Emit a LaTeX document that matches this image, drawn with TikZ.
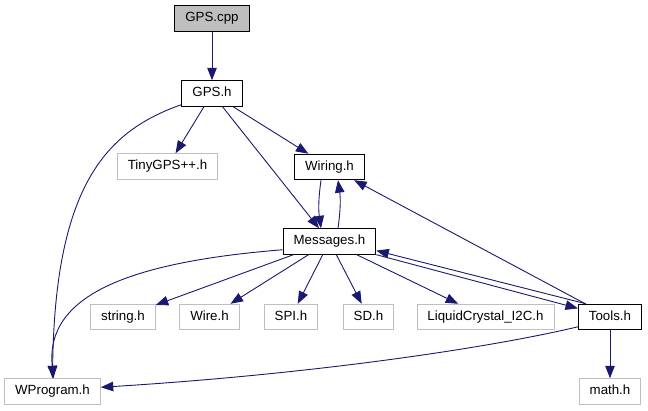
\documentclass[tikz,border=0pt]{standalone}
\usepackage{fontspec}
\setmainfont{Liberation Sans}
\usetikzlibrary{arrows.meta}
\definecolor{edgeblue}{HTML}{191970}
\definecolor{extgray}{HTML}{BFBFBF}

\tikzset{
  file/.style={draw=black,line width=0.9pt,minimum height=25.5pt,inner xsep=10.5pt,inner ysep=0pt,
    text height=10pt,text depth=3pt,font=\fontsize{13.3}{16}\selectfont},
  extfile/.style={file,draw=extgray},
  curfile/.style={file,fill=extgray},
  dep/.style={edgeblue,line width=0.9pt,-{Triangle[length=12.5pt,width=9.5pt]}},
}

\begin{document}
\begin{tikzpicture}[x=1pt,y=-1pt]
  \useasboundingbox (0,0) rectangle (648,411);
  % files
  \node[curfile] (cpp) at (212,18.5) {GPS.cpp};
  \node[file] (gpsh) at (212,93.5) {GPS.h};
  \node[extfile] (tinygps) at (167.5,166.5) {TinyGPS++.h};
  \node[file] (wiring) at (329.5,167) {Wiring.h};
  \node[file] (msgs) at (329.5,241.5) {Messages.h};
  \node[extfile] (stringh) at (123,317) {string.h};
  \node[extfile] (wireh) at (209.5,317) {Wire.h};
  \node[extfile] (spih) at (291,317) {SPI.h};
  \node[extfile] (sdh) at (368.5,317) {SD.h};
  \node[extfile] (lcdh) at (485.5,317) {LiquidCrystal\_I2C.h};
  \node[file] (tools) at (610,317) {Tools.h};
  \node[extfile] (wprog) at (52.5,391.5) {WProgram.h};
  \node[extfile] (mathh) at (610,391.5) {math.h};
  % includes
  \draw[dep] (cpp) -- (gpsh);
  \draw[dep] (gpsh) -- (tinygps);
  \draw[dep] (gpsh) -- (wiring);
  \draw[dep] (gpsh) -- (msgs);
  \draw[dep] (gpsh.200) .. controls (110,130) and (55,180) .. (wprog.north);
  \draw[dep] ([xshift=-8.5pt]wiring.south) to[bend right=8] ([xshift=-8.5pt]msgs.north);
  \draw[dep] ([xshift=8.5pt]msgs.north) to[bend right=8] ([xshift=8.5pt]wiring.south);
  \draw[dep] (msgs.190) .. controls (130,262) and (45,295) .. ([xshift=1pt]wprog.north);
  \foreach \dst in {stringh,wireh,spih,sdh,lcdh}
    \draw[dep] (msgs) -- (\dst);
  \draw[dep] (msgs.south east) -- (tools.165);
  \draw[dep] ([xshift=8pt]tools.north west) -- (msgs.-11);
  \draw[dep] (tools) -- (wiring);
  \draw[dep] (tools.197) .. controls (480,350) and (300,375) .. (wprog.5);
  \draw[dep] (tools) -- (mathh);
\end{tikzpicture}
\end{document}
